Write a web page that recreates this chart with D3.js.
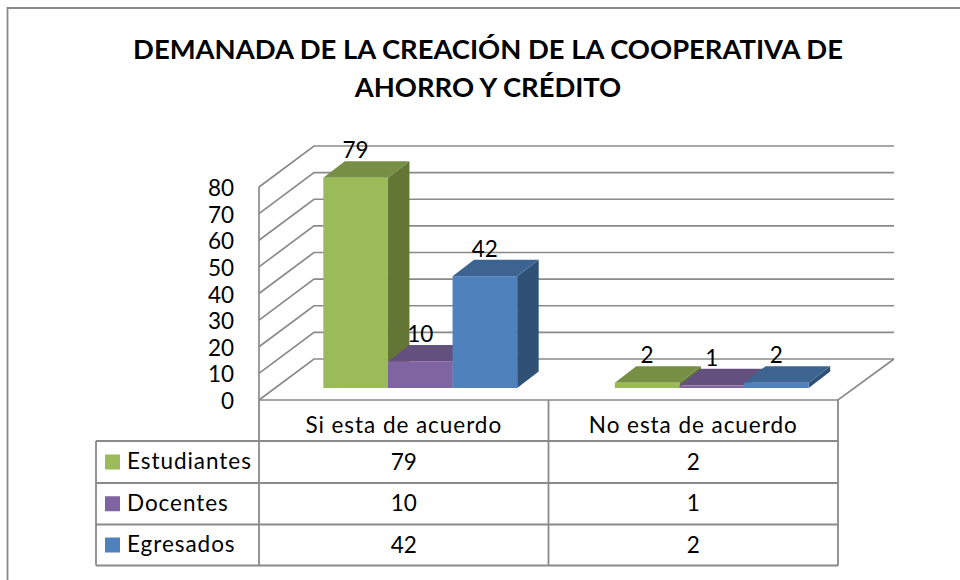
<!DOCTYPE html>
<html><head><meta charset="utf-8">
<script src="https://cdn.jsdelivr.net/npm/d3@7"></script>
<style>html,body{margin:0;background:#fff}svg{display:block}text{font-family:Lato,"Open Sans",sans-serif;fill:#000}.lbl{letter-spacing:.95px}</style>
</head><body><div id="chart"></div>
<script>
const titleLines=["DEMANADA DE LA CREACIÓN DE LA COOPERATIVA DE","AHORRO Y CRÉDITO"];
const categories=["Si esta de acuerdo","No esta de acuerdo"];
const seriesNames=["Estudiantes","Docentes","Egresados"];
const estudiantes=[79,2];
const docentes=[10,1];
const egresados=[42,2];
const seriesValues=[estudiantes,docentes,egresados];
const colors=["#9BBB59","#8064A2","#4F81BD"];
const topColors=["#778F45","#63507F","#3D6491"];
const sideColors=["#637636","#503F66","#305176"];
const yTicks=[0,10,20,30,40,50,60,70,80];

const svg=d3.select("#chart").append("svg").attr("width",960).attr("height",580);
const grid="#8a8a8a", fs=22.5;
const x0=259,x1=838,yBase=400,yTop=187,dx=55,dy=-41;
const y=d3.scaleLinear().domain([0,80]).range([yBase,yTop]);
const xCat=d3.scaleBand().domain(categories).range([x0,x1]);
const xSer=d3.scaleBand().domain(seriesNames).range([0,xCat.bandwidth()]).paddingInner(0).paddingOuter(0.74);
const groupNudge=[0,2];

// chart frame (cropped on the right and bottom in the source)
svg.append("path").attr("d","M7.5,580V8H960").attr("fill","none").attr("stroke",grid).attr("stroke-width",1.8);

// title
svg.selectAll("text.title").data(titleLines).join("text").attr("class","title")
  .attr("x",488).attr("y",(d,i)=>58.5+i*38.3).attr("text-anchor","middle")
  .attr("font-size",27.4).attr("font-weight",700).text(d=>d);

// walls
const wall=svg.append("g").attr("fill","none").attr("stroke",grid).attr("stroke-width",1.7);
yTicks.forEach(t=>{
  wall.append("path").attr("d",`M${x0},${y(t)}L${x0+dx},${y(t)+dy}H${x1+dx+1}`);
});
wall.append("path").attr("d",`M${x0},${yTop}V${yBase}H${x1}L${x1+dx+1},${yBase+dy}`);

// y labels
svg.selectAll("text.yt").data(yTicks).join("text").attr("class","yt")
  .attr("x",234).attr("y",d=>y(d)+9).attr("text-anchor","end").attr("font-size",fs).text(d=>d);

// bars
const ddx=21.5,ddy=-16.5,ox=16.5,oy=-12;
const bars=svg.append("g");
categories.forEach((c,ci)=>{
  seriesNames.forEach((s,si)=>{
    const v=seriesValues[si][ci];
    const xl=xCat(c)+xSer(s)+ox+groupNudge[ci], w=xSer.bandwidth();
    const yb=yBase+oy, h=y(0)-y(v), yt=yb-h;
    const g=bars.append("g");
    g.append("path").attr("fill",sideColors[si]).attr("d",`M${xl+w},${yt}L${xl+w+ddx},${yt+ddy}V${yb+ddy}L${xl+w},${yb}Z`);
    g.append("path").attr("fill",topColors[si]).attr("d",`M${xl},${yt}L${xl+ddx},${yt+ddy}H${xl+w+ddx}L${xl+w},${yt}Z`);
    g.append("rect").attr("x",xl).attr("y",yt).attr("width",w).attr("height",h).attr("fill",colors[si]);
  });
});
categories.forEach((c,ci)=>{
  seriesNames.forEach((s,si)=>{
    const v=seriesValues[si][ci];
    const xl=xCat(c)+xSer(s)+ox+groupNudge[ci], w=xSer.bandwidth();
    const yt=yBase+oy-(y(0)-y(v));
    svg.append("text").attr("x",xl+w/2).attr("y",yt+ddy-3).attr("text-anchor","middle").attr("font-size",fs).text(v);
  });
});

// data table
const rows=[400,441,483,524.5,565.5];
const xLeft=96;
const tbl=svg.append("g").attr("stroke",grid).attr("stroke-width",1.8).attr("fill","none");
tbl.append("path").attr("d",`M${x0},${rows[0]}V${rows[4]}M${xCat.range()[0]+xCat.bandwidth()},${rows[0]}V${rows[4]}M${x1},${rows[0]}V${rows[4]}M${xLeft},${rows[1]}V${rows[4]}`);
rows.slice(1).forEach(r=>tbl.append("path").attr("d",`M${xLeft},${r}H${x1}`));
svg.selectAll("text.cat").data(categories).join("text").attr("class","cat lbl")
  .attr("x",d=>xCat(d)+xCat.bandwidth()/2).attr("y",433.3).attr("text-anchor","middle").attr("font-size",fs).text(d=>d);
seriesNames.forEach((s,si)=>{
  const cy=(rows[si+1]+rows[si+2])/2;
  svg.append("rect").attr("x",105).attr("y",cy-7.5).attr("width",15).attr("height",15).attr("fill",colors[si]);
  svg.append("text").attr("class","lbl").attr("x",127).attr("y",cy+6.8).attr("font-size",fs).text(s);
  categories.forEach((c,ci)=>{
    svg.append("text").attr("x",xCat(c)+xCat.bandwidth()/2).attr("y",cy+7.5).attr("text-anchor","middle").attr("font-size",fs).text(seriesValues[si][ci]);
  });
});
</script></body></html>
